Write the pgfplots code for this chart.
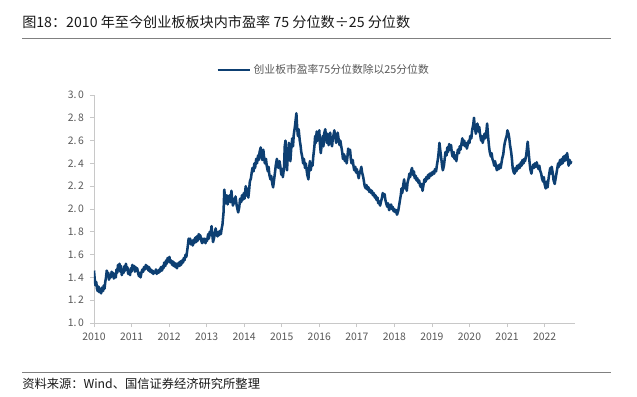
\documentclass[border=0pt]{standalone}
\usepackage{fontspec}
\setmainfont{Noto Sans CJK SC}
\usepackage{pgfplots}
\usepackage{pgfplotstable}
\pgfplotsset{compat=1.18}
\definecolor{lineblue}{RGB}{13,63,114}
\definecolor{txtgray}{RGB}{89,89,89}
\definecolor{axgray}{RGB}{200,200,200}
\definecolor{rulegray}{RGB}{128,128,128}

\pgfplotstableread{
year val
2010.00 1.46
2010.02 1.38
2010.04 1.33
2010.06 1.36
2010.08 1.30
2010.10 1.28
2010.12 1.32
2010.14 1.27
2010.17 1.30
2010.19 1.26
2010.21 1.31
2010.24 1.28
2010.26 1.33
2010.28 1.30
2010.30 1.36
2010.32 1.40
2010.34 1.46
2010.36 1.41
2010.38 1.44
2010.40 1.38
2010.43 1.42
2010.45 1.40
2010.47 1.45
2010.49 1.41
2010.51 1.44
2010.53 1.39
2010.56 1.43
2010.58 1.40
2010.60 1.47
2010.62 1.44
2010.64 1.51
2010.66 1.47
2010.68 1.52
2010.70 1.45
2010.72 1.50
2010.74 1.42
2010.77 1.47
2010.79 1.44
2010.81 1.50
2010.83 1.46
2010.85 1.52
2010.87 1.47
2010.89 1.49
2010.91 1.43
2010.94 1.46
2010.96 1.42
2010.98 1.48
2011.00 1.45
2011.02 1.51
2011.05 1.47
2011.07 1.50
2011.09 1.45
2011.11 1.49
2011.13 1.46
2011.15 1.48
2011.18 1.43
2011.20 1.41
2011.22 1.44
2011.24 1.40
2011.27 1.45
2011.29 1.47
2011.31 1.45
2011.33 1.49
2011.36 1.47
2011.38 1.51
2011.40 1.48
2011.42 1.50
2011.45 1.46
2011.47 1.49
2011.49 1.45
2011.51 1.47
2011.54 1.44
2011.56 1.46
2011.58 1.43
2011.60 1.45
2011.63 1.44
2011.65 1.47
2011.67 1.43
2011.69 1.46
2011.72 1.44
2011.74 1.47
2011.76 1.45
2011.78 1.49
2011.81 1.46
2011.83 1.50
2011.85 1.48
2011.87 1.53
2011.90 1.50
2011.92 1.55
2011.94 1.52
2011.96 1.57
2011.99 1.54
2012.01 1.58
2012.03 1.53
2012.05 1.55
2012.08 1.51
2012.10 1.54
2012.12 1.50
2012.14 1.53
2012.17 1.49
2012.19 1.52
2012.21 1.48
2012.23 1.51
2012.26 1.53
2012.28 1.50
2012.30 1.54
2012.32 1.51
2012.35 1.55
2012.37 1.53
2012.39 1.57
2012.41 1.55
2012.44 1.60
2012.46 1.58
2012.48 1.63
2012.50 1.68
2012.52 1.74
2012.54 1.70
2012.56 1.74
2012.58 1.69
2012.61 1.72
2012.63 1.68
2012.65 1.73
2012.67 1.70
2012.70 1.75
2012.72 1.71
2012.74 1.76
2012.76 1.72
2012.79 1.78
2012.81 1.74
2012.83 1.77
2012.85 1.73
2012.88 1.70
2012.90 1.74
2012.92 1.71
2012.95 1.74
2012.97 1.70
2012.99 1.73
2013.01 1.72
2013.04 1.78
2013.06 1.74
2013.08 1.80
2013.11 1.77
2013.13 1.85
2013.15 1.78
2013.17 1.71
2013.20 1.75
2013.22 1.79
2013.24 1.83
2013.26 1.78
2013.29 1.76
2013.31 1.80
2013.33 1.77
2013.36 1.81
2013.38 1.78
2013.40 1.83
2013.42 1.86
2013.45 1.97
2013.47 2.17
2013.49 2.10
2013.51 2.05
2013.54 2.12
2013.56 2.04
2013.58 2.08
2013.61 2.12
2013.63 2.06
2013.66 2.16
2013.68 2.08
2013.70 2.03
2013.73 2.09
2013.75 2.05
2013.77 2.11
2013.80 2.03
2013.82 2.00
2013.84 1.97
2013.87 2.02
2013.89 2.09
2013.92 2.06
2013.94 2.12
2013.96 2.08
2013.99 2.14
2014.01 2.09
2014.04 2.20
2014.06 2.12
2014.08 2.18
2014.11 2.10
2014.13 2.16
2014.15 2.24
2014.18 2.27
2014.20 2.32
2014.22 2.36
2014.25 2.33
2014.27 2.40
2014.29 2.36
2014.32 2.44
2014.34 2.40
2014.37 2.47
2014.39 2.43
2014.41 2.50
2014.44 2.54
2014.46 2.48
2014.48 2.43
2014.51 2.52
2014.53 2.45
2014.55 2.40
2014.58 2.44
2014.60 2.38
2014.63 2.33
2014.65 2.37
2014.67 2.30
2014.70 2.26
2014.72 2.29
2014.75 2.22
2014.77 2.19
2014.79 2.24
2014.82 2.32
2014.84 2.38
2014.87 2.44
2014.89 2.40
2014.91 2.36
2014.94 2.42
2014.96 2.38
2014.99 2.30
2015.01 2.35
2015.03 2.28
2015.06 2.36
2015.08 2.55
2015.10 2.60
2015.12 2.42
2015.14 2.34
2015.16 2.46
2015.19 2.58
2015.21 2.50
2015.23 2.42
2015.25 2.52
2015.28 2.62
2015.30 2.55
2015.32 2.65
2015.35 2.72
2015.37 2.78
2015.39 2.84
2015.41 2.72
2015.43 2.64
2015.45 2.70
2015.48 2.60
2015.50 2.56
2015.52 2.50
2015.55 2.45
2015.57 2.40
2015.59 2.44
2015.62 2.36
2015.64 2.40
2015.66 2.35
2015.68 2.30
2015.71 2.26
2015.73 2.36
2015.75 2.42
2015.77 2.34
2015.80 2.40
2015.82 2.38
2015.84 2.46
2015.87 2.55
2015.89 2.64
2015.91 2.58
2015.93 2.68
2015.96 2.60
2015.98 2.66
2016.00 2.69
2016.02 2.56
2016.04 2.49
2016.07 2.58
2016.09 2.64
2016.11 2.55
2016.13 2.66
2016.16 2.70
2016.18 2.62
2016.20 2.58
2016.22 2.66
2016.25 2.56
2016.27 2.63
2016.29 2.67
2016.31 2.59
2016.34 2.55
2016.36 2.62
2016.38 2.65
2016.40 2.69
2016.43 2.62
2016.45 2.58
2016.47 2.63
2016.49 2.67
2016.52 2.60
2016.54 2.56
2016.56 2.60
2016.59 2.54
2016.61 2.50
2016.63 2.44
2016.66 2.48
2016.68 2.42
2016.70 2.46
2016.73 2.40
2016.75 2.46
2016.77 2.53
2016.80 2.48
2016.82 2.52
2016.84 2.44
2016.86 2.40
2016.89 2.43
2016.91 2.38
2016.93 2.34
2016.96 2.37
2016.98 2.32
2017.00 2.35
2017.03 2.30
2017.05 2.27
2017.07 2.31
2017.10 2.34
2017.12 2.37
2017.14 2.32
2017.17 2.28
2017.19 2.24
2017.21 2.20
2017.24 2.18
2017.26 2.21
2017.28 2.17
2017.31 2.19
2017.33 2.15
2017.36 2.17
2017.38 2.14
2017.40 2.16
2017.43 2.12
2017.45 2.14
2017.48 2.10
2017.50 2.12
2017.52 2.08
2017.55 2.10
2017.57 2.05
2017.59 2.07
2017.62 2.03
2017.64 2.06
2017.67 2.10
2017.69 2.14
2017.71 2.11
2017.74 2.13
2017.76 2.08
2017.79 2.04
2017.81 2.02
2017.83 2.05
2017.86 1.99
2017.88 2.01
2017.91 2.04
2017.93 2.00
2017.95 2.02
2017.98 1.98
2018.00 2.00
2018.03 1.97
2018.05 1.99
2018.07 1.95
2018.10 1.98
2018.12 2.02
2018.14 2.06
2018.17 2.12
2018.19 2.18
2018.21 2.14
2018.24 2.22
2018.26 2.26
2018.28 2.18
2018.31 2.22
2018.33 2.16
2018.35 2.23
2018.38 2.27
2018.40 2.31
2018.42 2.28
2018.45 2.34
2018.47 2.36
2018.49 2.30
2018.52 2.33
2018.54 2.27
2018.57 2.29
2018.59 2.25
2018.61 2.27
2018.64 2.23
2018.66 2.25
2018.68 2.21
2018.71 2.19
2018.73 2.22
2018.75 2.16
2018.78 2.22
2018.80 2.26
2018.83 2.24
2018.85 2.28
2018.87 2.26
2018.90 2.30
2018.92 2.27
2018.94 2.31
2018.97 2.29
2018.99 2.32
2019.01 2.30
2019.04 2.33
2019.06 2.31
2019.08 2.35
2019.11 2.33
2019.13 2.38
2019.16 2.44
2019.18 2.50
2019.20 2.58
2019.22 2.52
2019.25 2.44
2019.27 2.38
2019.29 2.34
2019.32 2.38
2019.34 2.44
2019.36 2.50
2019.39 2.47
2019.41 2.54
2019.43 2.50
2019.46 2.57
2019.48 2.52
2019.51 2.56
2019.53 2.49
2019.55 2.46
2019.58 2.50
2019.60 2.44
2019.62 2.47
2019.65 2.42
2019.67 2.47
2019.69 2.52
2019.72 2.49
2019.74 2.55
2019.76 2.52
2019.79 2.58
2019.81 2.62
2019.84 2.56
2019.86 2.60
2019.88 2.55
2019.91 2.58
2019.93 2.53
2019.95 2.56
2019.98 2.60
2020.00 2.58
2020.02 2.64
2020.05 2.62
2020.07 2.69
2020.10 2.74
2020.12 2.80
2020.14 2.72
2020.17 2.66
2020.19 2.70
2020.21 2.75
2020.24 2.68
2020.26 2.72
2020.28 2.66
2020.31 2.60
2020.33 2.64
2020.35 2.58
2020.38 2.62
2020.40 2.66
2020.42 2.62
2020.45 2.68
2020.47 2.75
2020.50 2.62
2020.52 2.55
2020.54 2.50
2020.57 2.46
2020.59 2.49
2020.61 2.44
2020.64 2.41
2020.66 2.38
2020.68 2.42
2020.71 2.37
2020.73 2.34
2020.75 2.38
2020.78 2.35
2020.80 2.39
2020.83 2.36
2020.85 2.40
2020.87 2.44
2020.90 2.48
2020.92 2.54
2020.94 2.58
2020.97 2.62
2020.99 2.64
2021.01 2.69
2021.04 2.66
2021.06 2.62
2021.08 2.56
2021.11 2.50
2021.13 2.44
2021.15 2.36
2021.18 2.32
2021.20 2.31
2021.22 2.36
2021.25 2.33
2021.27 2.38
2021.29 2.35
2021.32 2.39
2021.34 2.36
2021.37 2.41
2021.39 2.38
2021.41 2.43
2021.44 2.40
2021.46 2.44
2021.48 2.42
2021.51 2.47
2021.53 2.53
2021.55 2.59
2021.58 2.48
2021.60 2.41
2021.62 2.35
2021.65 2.31
2021.67 2.36
2021.70 2.39
2021.72 2.36
2021.74 2.40
2021.77 2.37
2021.79 2.41
2021.81 2.38
2021.84 2.35
2021.86 2.38
2021.88 2.34
2021.91 2.31
2021.93 2.27
2021.96 2.24
2021.98 2.28
2022.00 2.22
2022.03 2.18
2022.05 2.24
2022.08 2.19
2022.10 2.25
2022.12 2.30
2022.15 2.36
2022.17 2.31
2022.19 2.37
2022.22 2.31
2022.24 2.25
2022.27 2.22
2022.29 2.26
2022.31 2.30
2022.34 2.36
2022.36 2.40
2022.38 2.37
2022.41 2.43
2022.43 2.39
2022.46 2.44
2022.48 2.40
2022.50 2.46
2022.53 2.42
2022.55 2.47
2022.57 2.43
2022.60 2.49
2022.62 2.44
2022.64 2.38
2022.67 2.43
2022.69 2.40
2022.71 2.42
}\ratiodata

\begin{document}
\begin{tikzpicture}[x=0.75pt,y=-0.75pt]
\useasboundingbox (0,0) rectangle (637,397);
\fill[white] (0,0) rectangle (637,397);
% title and rules
\node[anchor=west, inner sep=0pt, text=black!90, font=\fontsize{10.6}{12}\selectfont] at (22,22) {图18：2010 年至今创业板板块内市盈率 75 分位数÷25 分位数};
\draw[rulegray, line width=0.7pt] (22,38) -- (611,38);
\draw[rulegray, line width=0.7pt] (22,372) -- (611,372);
\node[anchor=west, inner sep=0pt, text=black!90, font=\fontsize{9.2}{11}\selectfont] at (22,384) {资料来源：Wind、国信证券经济研究所整理};
\coordinate (O) at (94,323);
\begin{axis}[
  at={(O)}, anchor=south west,
  scale only axis,
  width=360.75pt, height=171pt,
  xmin=2010, xmax=2022.81,
  ymin=1, ymax=3,
  axis x line*=bottom, axis y line*=left,
  axis line style={draw=axgray, line width=0.6pt},
  tick style={draw=axgray, line width=0.6pt},
  tick align=outside,
  major tick length=3pt,
  xtick={2010,2011,2012,2013,2014,2015,2016,2017,2018,2019,2020,2021,2022},
  xticklabels={2010,2011,2012,2013,2014,2015,2016,2017,2018,2019,2020,2021,2022},
  ytick={1,1.2,1.4,1.6,1.8,2,2.2,2.4,2.6,2.8,3},
  yticklabels={1.\,0,1.\,2,1.\,4,1.\,6,1.\,8,2.\,0,2.\,2,2.\,4,2.\,6,2.\,8,3.\,0},
  /pgf/number format/assume math mode=true,
  ticklabel style={text=txtgray, font=\fontsize{7.8}{9}\selectfont},
  x tick label style={yshift=-1pt},
  y tick label style={xshift=-1pt},
  legend style={at={(0.478,1.11)}, anchor=center, draw=none, fill=none,
    font=\fontsize{8.1}{9.5}\selectfont, text=txtgray, inner sep=0pt,
    legend cell align=left},
  legend image code/.code={\draw[#1, line width=2pt] (0pt,0pt) -- (24pt,0pt);},
]
\addplot[lineblue, line width=1.9pt, line join=round, mark=none] table[x=year, y=val] {\ratiodata};
\addlegendentry{创业板市盈率75分位数除以25分位数}
\end{axis}
\end{tikzpicture}
\end{document}
